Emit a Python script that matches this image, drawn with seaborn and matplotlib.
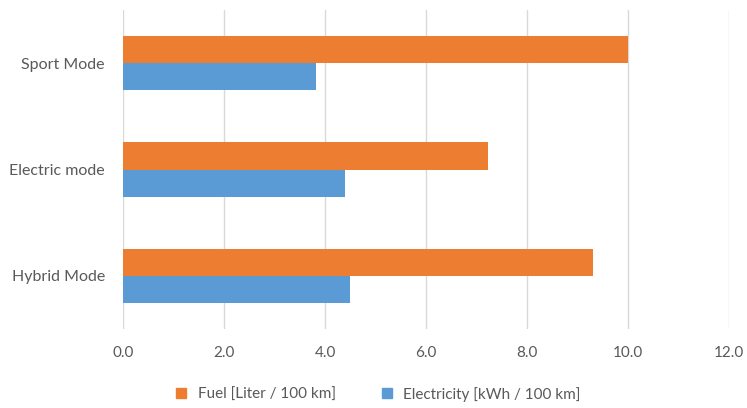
import pandas as pd
from matplotlib import pyplot as plt
from matplotlib.lines import Line2D
import seaborn as sns

modes = ['Sport Mode', 'Electric mode', 'Hybrid Mode']
fuel = [10.0, 7.23, 9.3]
electricity = [3.83, 4.4, 4.49]
series = ['Fuel [Liter / 100 km]', 'Electricity [kWh / 100 km]']
xticks = [0, 2, 4, 6, 8, 10, 12]

df = pd.DataFrame({
    'mode': modes * 2,
    'value': fuel + electricity,
    'series': [series[0]] * 3 + [series[1]] * 3,
})

sns.set_style('white')
plt.rcParams['font.family'] = ['Lato', 'DejaVu Sans']
txt = '#595959'
colors = ['#ED7D31', '#5B9BD5']

fig = plt.figure(figsize=(7.47, 4.08), dpi=100)
ax = fig.add_axes([0.1647, 0.1936, 0.8113, 0.7819])
sns.barplot(data=df, y='mode', x='value', hue='series', orient='h',
            palette=colors, width=0.51, ax=ax, legend=False,
            saturation=1, edgecolor='none')

ax.set_xlim(0, 12)
ax.set_xticks(xticks)
ax.set_xticklabels(['%.1f' % v for v in xticks])
ax.set_xlabel('')
ax.set_ylabel('')
ax.xaxis.grid(True, color='#D9D9D9', linewidth=1)
ax.set_axisbelow(True)
for s in ax.spines.values():
    s.set_visible(False)
ax.tick_params(axis='x', length=0, pad=12, labelsize=11, labelcolor=txt)
ax.tick_params(axis='y', length=0, pad=13, labelsize=11.5, labelcolor=txt)

handles = [Line2D([], [], marker='s', linestyle='none', markersize=7,
                  markerfacecolor=c, markeredgecolor=c) for c in colors]
fig.legend(handles, series, loc='lower center', bbox_to_anchor=(0.5, -0.018),
           ncol=2, frameon=False, fontsize=11, labelcolor=txt,
           handletextpad=0.1, columnspacing=2.3)

fig.savefig('out.png', dpi=100)
